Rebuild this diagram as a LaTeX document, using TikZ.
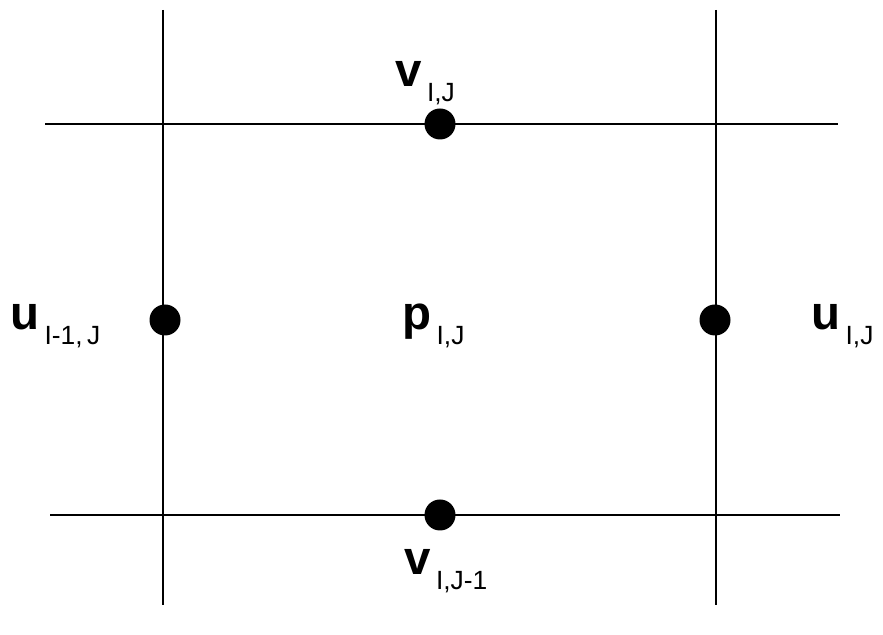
\documentclass[tikz,border=0pt]{standalone}
\usepackage{fontspec}
\setsansfont{Liberation Sans}
\usepackage{tikz}
\usetikzlibrary{positioning}
\newcommand{\gridvar}[2]{{\fontsize{27}{29}\selectfont\bfseries #1}\hspace{3pt}\raisebox{-8pt}{\fontsize{15}{17}\selectfont #2}}

\begin{document}
\begin{tikzpicture}[x=1cm,y=1cm,
  gridline/.style={line width=1.6pt,black},
  dot/.style={circle,fill=black,inner sep=0pt,minimum size=0.62cm},
  lbl/.style={font=\sffamily,inner sep=0pt,anchor=base west}]
  \useasboundingbox (0,0) rectangle (17.66,12.7);
  % grid lines
  \coordinate (lt) at (3.26,12.5);  \coordinate (lb) at (3.26,0.6);
  \coordinate (rt) at (14.32,12.5); \coordinate (rb) at (14.32,0.6);
  \coordinate (tl) at (0.9,10.22);  \coordinate (tr) at (16.76,10.22);
  \coordinate (bl) at (1.0,2.4);    \coordinate (br) at (16.8,2.4);
  \draw[gridline] (lt)--(lb); \draw[gridline] (rt)--(rb);
  \draw[gridline] (tl)--(tr); \draw[gridline] (bl)--(br);
  % staggered unknowns
  \node[dot] (vtop) at (8.8,10.22) {};
  \node[dot] (uleft) at (3.3,6.3) {};
  \node[dot] (uright) at (14.3,6.3) {};
  \node[dot] (vbot) at (8.8,2.4) {};
  \node[lbl] (lvtop) at (7.9,10.96) {\gridvar{v}{I,J}};
  \node[lbl] (luleft) at (0.2,6.1) {\gridvar{u}{I-1,\,J}};
  \node[lbl] (lp) at (8.04,6.1) {\gridvar{p}{I,J}};
  \node[lbl] (luright) at (16.22,6.1) {\gridvar{u}{I,J}};
  \node[lbl] (lvbot) at (8.08,1.2) {\gridvar{v}{I,J-1}};
\end{tikzpicture}
\end{document}
